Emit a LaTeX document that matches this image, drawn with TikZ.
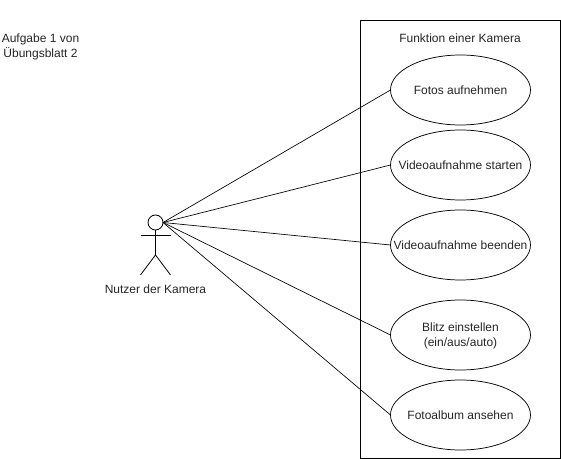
\documentclass[tikz,border=0pt]{standalone}
\usepackage{fontspec}
\setmainfont{Liberation Sans}
\usetikzlibrary{shapes.geometric}
\tikzset{x=0.75pt,y=-0.75pt,
  lbl/.style={align=center,inner sep=0pt,yshift=-0.5pt,font=\fontsize{9pt}{11.2pt}\selectfont,text=black!85},
  usecase/.style={draw,ellipse,line width=0.55pt,minimum width=105pt,minimum height=52.5pt,inner sep=0pt,outer sep=0pt},
  link/.style={draw,line width=0.5pt},
  stick/.style={draw,line width=0.6pt}}
\begin{document}
\begin{tikzpicture}
\useasboundingbox[fill=white] (0,0) rectangle (561,459);
\node[draw,line width=0.75pt,outer sep=0pt,minimum width=150pt,minimum height=328.5pt,inner sep=0pt,anchor=north west] (sys) at (360.5,20.5) {};
\node[lbl] (title) at (460,38) {Funktion einer Kamera};
\node[usecase,label={[lbl]center:Fotos aufnehmen}] (u1) at (460.5,90) {};
\node[usecase,label={[lbl]center:Videoaufnahme starten}] (u2) at (460.5,165) {};
\node[usecase,label={[lbl]center:Videoaufnahme beenden}] (u3) at (460.5,245) {};
\node[usecase,label={[lbl]center:{Blitz einstellen\\(ein/aus/auto)}}] (u4) at (460.5,335) {};
\node[usecase,label={[lbl]center:Fotoalbum ansehen}] (u5) at (460.5,415) {};
\node[lbl] (note) at (40.5,46) {Aufgabe 1 von\\Übungsblatt 2};
\node[draw,circle,minimum size=11.25pt,inner sep=0pt,outer sep=0pt,line width=0.6pt] (head) at (155.5,222.5) {};
\coordinate (hip) at (155.5,255);
\coordinate (al) at (140.5,235);
\coordinate (ar) at (170.5,235);
\coordinate (fl) at (140.5,275);
\coordinate (fr) at (170.5,275);
\draw[stick] (head.south) -- (hip);
\draw[stick] (al) -- (ar);
\draw[stick] (fl) -- (hip) -- (fr);
\node[lbl] (actor) at (155.5,289) {Nutzer der Kamera};
\foreach \u in {u1,u2,u3,u4,u5} \draw[link] (head.east) -- (\u.west);
\end{tikzpicture}
\end{document}
